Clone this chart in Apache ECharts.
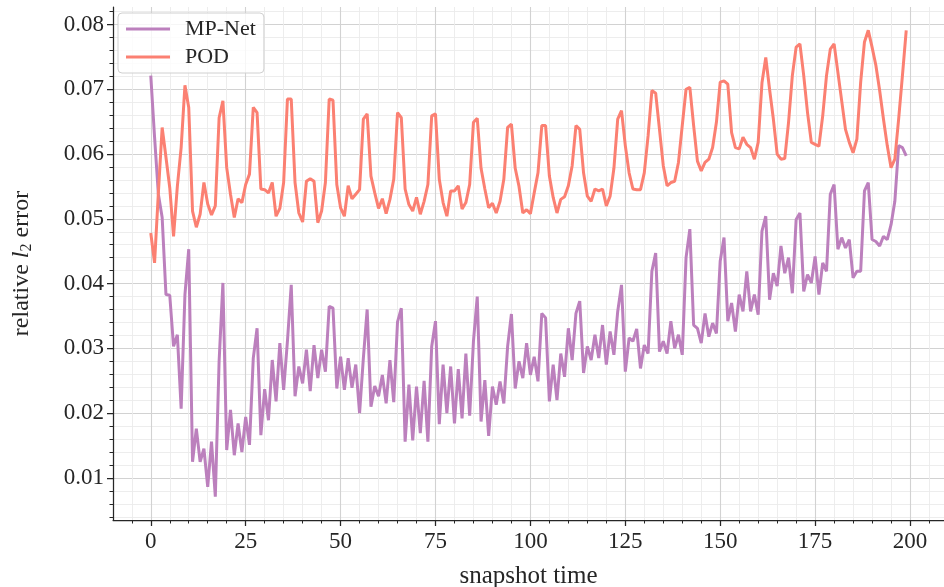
<!DOCTYPE html>
<html><head><meta charset="utf-8">
<script src="https://cdn.jsdelivr.net/npm/echarts@6/dist/echarts.min.js"></script>
<style>html,body{margin:0;padding:0;background:#fff}#c{width:944px;height:587px}</style>
</head><body><div id="c"></div>
<script>
const seriesNames = ['MP-Net', 'POD'];
const mpNet = [
0.0721,0.0626,0.0538,0.0502,0.0383,0.0382,0.0303,0.0321,0.0207,0.0383,
0.0453,0.0125,0.0176,0.0125,0.0145,0.0086,0.0156,0.0071,0.0280,0.0401,
0.0143,0.0205,0.0135,0.0184,0.0140,0.0194,0.0151,0.0285,0.0331,0.0166,
0.0237,0.0189,0.0282,0.0218,0.0308,0.0236,0.0311,0.0398,0.0226,0.0272,
0.0246,0.0298,0.0234,0.0305,0.0254,0.0298,0.0264,0.0365,0.0362,0.0238,
0.0287,0.0236,0.0285,0.0239,0.0275,0.0200,0.0285,0.0360,0.0210,0.0242,
0.0226,0.0259,0.0215,0.0282,0.0217,0.0341,0.0362,0.0156,0.0244,0.0158,
0.0241,0.0169,0.0250,0.0156,0.0303,0.0342,0.0183,0.0275,0.0200,0.0272,
0.0184,0.0268,0.0192,0.0292,0.0196,0.0311,0.0380,0.0187,0.0251,0.0165,
0.0241,0.0213,0.0249,0.0215,0.0303,0.0353,0.0238,0.0280,0.0254,0.0308,
0.0259,0.0287,0.0249,0.0354,0.0347,0.0218,0.0275,0.0220,0.0292,0.0256,
0.0331,0.0282,0.0354,0.0373,0.0262,0.0303,0.0282,0.0321,0.0285,0.0336,
0.0275,0.0326,0.0290,0.0357,0.0398,0.0264,0.0316,0.0311,0.0330,0.0269,
0.0305,0.0292,0.0419,0.0447,0.0295,0.0311,0.0292,0.0342,0.0300,0.0321,
0.0290,0.0440,0.0484,0.0336,0.0331,0.0308,0.0354,0.0318,0.0339,0.0323,
0.0435,0.0471,0.0342,0.0370,0.0326,0.0383,0.0357,0.0419,0.0357,0.0383,
0.0352,0.0481,0.0504,0.0375,0.0416,0.0396,0.0458,0.0416,0.0440,0.0385,
0.0499,0.0509,0.0388,0.0414,0.0401,0.0442,0.0383,0.0432,0.0419,0.0538,
0.0553,0.0453,0.0471,0.0455,0.0468,0.0409,0.0419,0.0419,0.0543,0.0556,
0.0468,0.0465,0.0458,0.0473,0.0468,0.0491,0.0527,0.0613,0.0610,0.0597
];
const pod = [
0.0478,0.0432,0.0540,0.0641,0.0595,0.0548,0.0473,0.0550,0.0610,0.0706,
0.0672,0.0512,0.0487,0.0507,0.0556,0.0523,0.0506,0.0520,0.0656,0.0682,
0.0579,0.0538,0.0502,0.0531,0.0525,0.0553,0.0569,0.0672,0.0664,0.0546,
0.0545,0.0540,0.0556,0.0504,0.0516,0.0556,0.0685,0.0685,0.0556,0.0509,
0.0495,0.0558,0.0562,0.0558,0.0494,0.0512,0.0556,0.0685,0.0683,0.0553,
0.0517,0.0504,0.0551,0.0531,0.0538,0.0545,0.0654,0.0662,0.0566,0.0540,
0.0516,0.0531,0.0508,0.0530,0.0561,0.0664,0.0656,0.0546,0.0522,0.0512,
0.0533,0.0507,0.0527,0.0553,0.0659,0.0662,0.0561,0.0525,0.0504,0.0543,
0.0543,0.0551,0.0515,0.0525,0.0553,0.0649,0.0655,0.0578,0.0546,0.0517,
0.0524,0.0509,0.0527,0.0561,0.0641,0.0646,0.0578,0.0550,0.0509,0.0514,
0.0508,0.0540,0.0571,0.0644,0.0644,0.0566,0.0533,0.0509,0.0530,0.0534,
0.0551,0.0582,0.0644,0.0638,0.0571,0.0535,0.0527,0.0546,0.0543,0.0546,
0.0520,0.0535,0.0578,0.0654,0.0667,0.0613,0.0571,0.0546,0.0545,0.0545,
0.0571,0.0628,0.0698,0.0694,0.0638,0.0582,0.0551,0.0556,0.0558,0.0587,
0.0644,0.0700,0.0703,0.0644,0.0589,0.0574,0.0587,0.0592,0.0610,0.0649,
0.0711,0.0713,0.0708,0.0633,0.0610,0.0608,0.0626,0.0615,0.0610,0.0592,
0.0618,0.0710,0.0749,0.0700,0.0654,0.0600,0.0592,0.0593,0.0649,0.0721,
0.0765,0.0770,0.0721,0.0664,0.0618,0.0615,0.0612,0.0659,0.0721,0.0762,
0.0770,0.0726,0.0682,0.0638,0.0618,0.0602,0.0623,0.0711,0.0773,0.0791,
0.0765,0.0737,0.0698,0.0654,0.0613,0.0579,0.0592,0.0654,0.0721,0.0791
];
const xMajorTicks = [0,25,50,75,100,125,150,175,200];
const xMinorTicks = [-5,5,10,15,20,30,35,40,45,55,60,65,70,80,85,90,95,105,110,115,120,130,135,140,145,155,160,165,170,180,185,190,195,205];
const yMajorTicks = [0.01,0.02,0.03,0.04,0.05,0.06,0.07,0.08];
const yMinorTicks = [0.004,0.006,0.008,0.012,0.014,0.016,0.018,0.022,0.024,0.026,0.028,0.032,0.034,0.036,0.038,0.042,0.044,0.046,0.048,0.052,0.054,0.056,0.058,0.062,0.064,0.066,0.068,0.072,0.074,0.076,0.078,0.082];

const FONT = 'Liberation Serif';
const TXT = '#262626';
const toPairs = arr => arr.map((v, i) => [i, v]);
const XMIN = -9.95, XMAX = 208.95, YMIN = 0.0035, YMAX = 0.0827;

const chart = echarts.init(document.getElementById('c'), null, {renderer: 'canvas'});
chart.setOption({
  animation: false,
  backgroundColor: '#ffffff',
  grid: {left: 113, right: 0, top: 7, bottom: 67, containLabel: false, outerBoundsMode: 'none'},
  legend: {
    left: 118, top: 13, orient: 'vertical',
    backgroundColor: 'rgba(255,255,255,0.8)', borderColor: '#d0d0d0', borderWidth: 1, borderRadius: 4,
    padding: [5, 8, 5, 8], itemGap: 6, itemWidth: 44, itemHeight: 3, icon: 'rect',
    textStyle: {fontFamily: FONT, fontSize: 22, color: TXT, padding: [0, 0, 0, 10]},
    data: seriesNames
  },
  xAxis: [
    {
      type: 'value', min: XMIN, max: XMAX, position: 'bottom',
      axisLine: {show: true, onZero: false, lineStyle: {color: TXT, width: 1.25}},
      axisTick: {show: true, length: 6, customValues: xMajorTicks, lineStyle: {color: TXT, width: 1.25}},
      axisLabel: {customValues: xMajorTicks, fontFamily: FONT, fontSize: 23, color: TXT, margin: 10},
      splitLine: {show: true, lineStyle: {color: '#d2d2d2', width: 1.1}},
      name: 'snapshot time', nameLocation: 'middle', nameGap: 44,
      nameTextStyle: {fontFamily: FONT, fontSize: 25, color: TXT}
    },
    {
      type: 'value', min: XMIN, max: XMAX, position: 'bottom', offset: 0,
      axisLine: {show: false, onZero: false},
      axisTick: {show: true, length: 3.5, customValues: xMinorTicks, lineStyle: {color: TXT, width: 1}},
      axisLabel: {show: false, customValues: xMinorTicks},
      splitLine: {show: true, lineStyle: {color: '#ebebeb', width: 0.9}}
    }
  ],
  yAxis: [
    {
      type: 'value', min: YMIN, max: YMAX, position: 'left',
      axisLine: {show: true, onZero: false, lineStyle: {color: TXT, width: 1.25}},
      axisTick: {show: true, length: 6, customValues: yMajorTicks, lineStyle: {color: TXT, width: 1.25}},
      axisLabel: {customValues: yMajorTicks, fontFamily: FONT, fontSize: 23, color: TXT, margin: 9,
        formatter: v => v.toFixed(2)},
      splitLine: {show: true, lineStyle: {color: '#d2d2d2', width: 1.1}},
      name: 'relative {it|l}{sub|2} error', nameLocation: 'middle', nameGap: 78, nameRotate: 90,
      nameTextStyle: {fontFamily: FONT, fontSize: 24, color: TXT,
        rich: {
          it: {fontFamily: FONT, fontSize: 24, fontStyle: 'italic', color: TXT},
          sub: {fontFamily: FONT, fontSize: 16, color: TXT, padding: [10, 0, 0, 0]}
        }}
    },
    {
      type: 'value', min: YMIN, max: YMAX, position: 'left', offset: 0,
      axisLine: {show: false, onZero: false},
      axisTick: {show: true, length: 3.5, customValues: yMinorTicks, lineStyle: {color: TXT, width: 1}},
      axisLabel: {show: false, customValues: yMinorTicks},
      splitLine: {show: true, lineStyle: {color: '#ebebeb', width: 0.9}}
    }
  ],
  series: [
    {name: seriesNames[0], type: 'line', xAxisIndex: 0, yAxisIndex: 0, data: toPairs(mpNet),
      showSymbol: false, symbol: 'none', color: '#bc80bd', lineStyle: {color: '#bc80bd', width: 3}, z: 3},
    {name: seriesNames[1], type: 'line', xAxisIndex: 0, yAxisIndex: 0, data: toPairs(pod),
      showSymbol: false, symbol: 'none', color: '#fb8072', lineStyle: {color: '#fb8072', width: 3}, z: 4}
  ]
});
</script></body></html>
